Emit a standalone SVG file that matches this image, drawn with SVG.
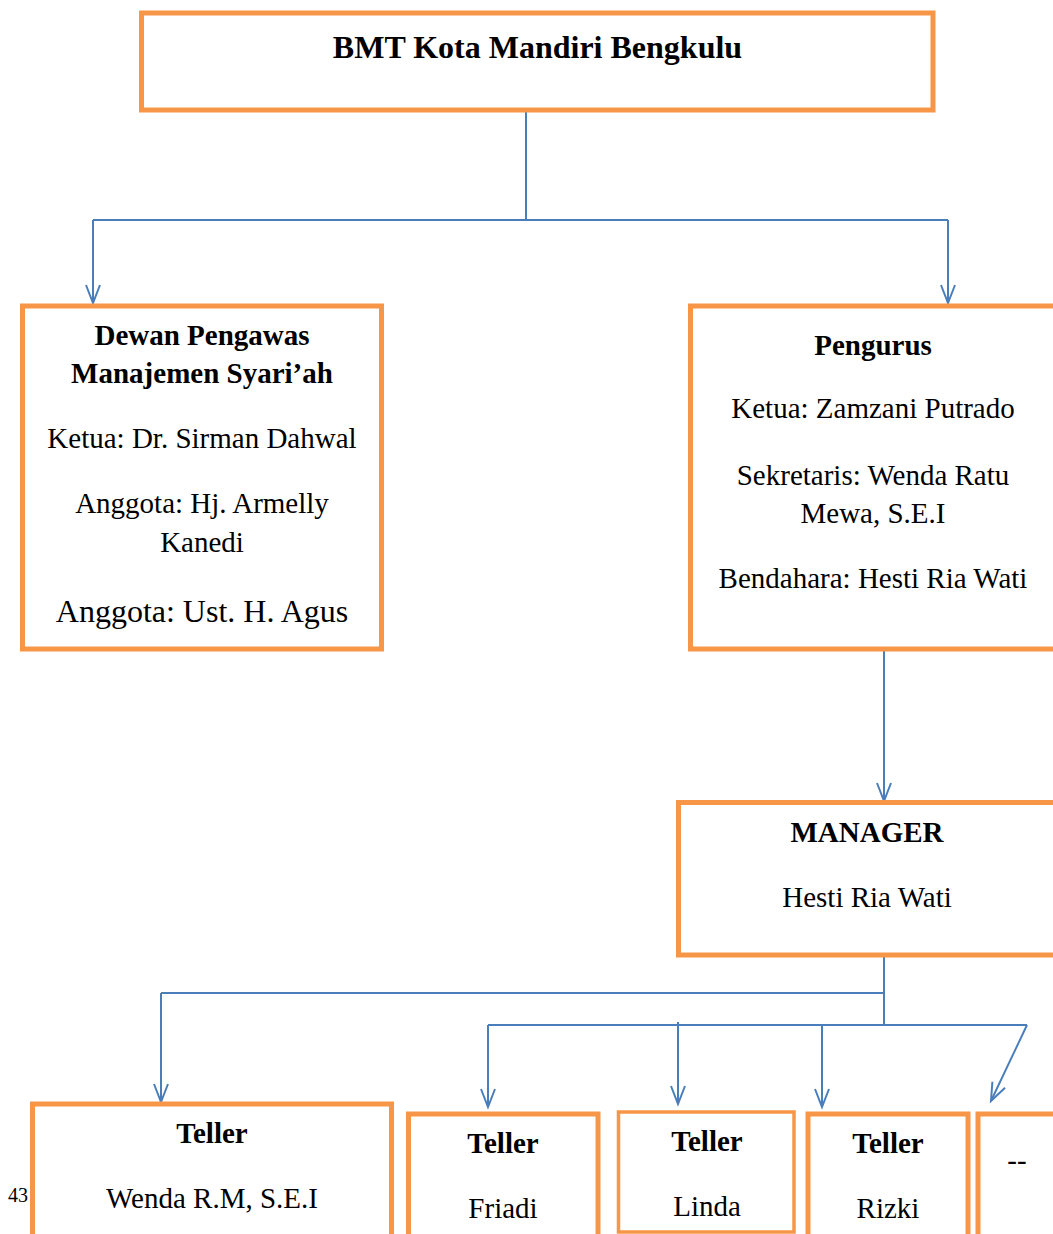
<svg xmlns="http://www.w3.org/2000/svg" width="1053" height="1234" viewBox="0 0 1053 1234">
<style>
.box{fill:#fff;stroke:#F79646;stroke-width:5;}
.thin{stroke-width:3.5;}
.t{font-family:"Liberation Serif","Times New Roman",serif;font-size:29px;fill:#000;text-anchor:middle;}
.b{font-weight:bold;}
.c{fill:none;stroke:#4A7EBB;stroke-width:2;}
</style>
<defs>
<marker id="arr" markerUnits="userSpaceOnUse" markerWidth="24" markerHeight="20" viewBox="-20 -10 24 20" refX="0" refY="0" orient="auto">
<path d="M-18,-7 L0,0 L-18,7" fill="none" stroke="#4A7EBB" stroke-width="2"/>
</marker>
</defs>
<rect width="1053" height="1234" fill="#fff"/>
<g id="connectors">
<path class="c" d="M526,110 V220"/>
<path class="c" d="M93,220 H948"/>
<path class="c" d="M93,220 V303" marker-end="url(#arr)"/>
<path class="c" d="M948,220 V303" marker-end="url(#arr)"/>
<path class="c" d="M884,649 V801" marker-end="url(#arr)"/>
<path class="c" d="M884,955 V1025"/>
<path class="c" d="M161,993 H884"/>
<path class="c" d="M161,993 V1102" marker-end="url(#arr)"/>
<path class="c" d="M488,1025 H1027"/>
<path class="c" d="M488,1025 V1107" marker-end="url(#arr)"/>
<path class="c" d="M678,1022 V1104" marker-end="url(#arr)"/>
<path class="c" d="M822,1025 V1107" marker-end="url(#arr)"/>
<path class="c" d="M1027,1025 L991,1101" marker-end="url(#arr)"/>
</g>
<g id="bmt">
<rect class="box" x="141.5" y="13" width="791.5" height="97"/>
<text class="t b" x="537.5" y="58" style="font-size:32px">BMT Kota Mandiri Bengkulu</text>
</g>
<g id="dewan">
<rect class="box" x="22.5" y="306" width="359" height="343"/>
<text class="t b" x="202" y="345">Dewan Pengawas</text>
<text class="t b" x="202" y="383">Manajemen Syari’ah</text>
<text class="t" x="202" y="448">Ketua: Dr. Sirman Dahwal</text>
<text class="t" x="202" y="513">Anggota: Hj. Armelly</text>
<text class="t" x="202" y="552">Kanedi</text>
<text class="t" x="202" y="622" style="font-size:32px">Anggota: Ust. H. Agus</text>
</g>
<g id="pengurus">
<rect class="box" x="690.5" y="306" width="400" height="343"/>
<text class="t b" x="873" y="355">Pengurus</text>
<text class="t" x="873" y="418">Ketua: Zamzani Putrado</text>
<text class="t" x="873" y="485">Sekretaris: Wenda Ratu</text>
<text class="t" x="873" y="523">Mewa, S.E.I</text>
<text class="t" x="873" y="588">Bendahara: Hesti Ria Wati</text>
</g>
<g id="manager">
<rect class="box" x="678.5" y="802.5" width="400" height="152.5"/>
<text class="t b" x="867" y="842">MANAGER</text>
<text class="t" x="867" y="907">Hesti Ria Wati</text>
</g>
<g id="teller1">
<rect class="box" x="32.5" y="1104" width="359" height="200"/>
<text class="t b" x="212" y="1143">Teller</text>
<text class="t" x="212" y="1208">Wenda R.M, S.E.I</text>
</g>
<g id="teller2">
<rect class="box" x="408.5" y="1114" width="189.5" height="200"/>
<text class="t b" x="503" y="1153">Teller</text>
<text class="t" x="503" y="1218">Friadi</text>
</g>
<g id="teller3">
<rect class="box thin" x="618.5" y="1112" width="175.5" height="120"/>
<text class="t b" x="707" y="1151">Teller</text>
<text class="t" x="707" y="1216">Linda</text>
</g>
<g id="teller4">
<rect class="box" x="808" y="1114" width="160" height="200"/>
<text class="t b" x="888" y="1153">Teller</text>
<text class="t" x="888" y="1218">Rizki</text>
</g>
<g id="box5">
<rect class="box" x="978" y="1114" width="200" height="200"/>
<text class="t" x="1017" y="1170">--</text>
</g>
<text x="8" y="1202" style="font-family:'Liberation Serif','Times New Roman',serif;font-size:20px;fill:#000">43</text>
</svg>
